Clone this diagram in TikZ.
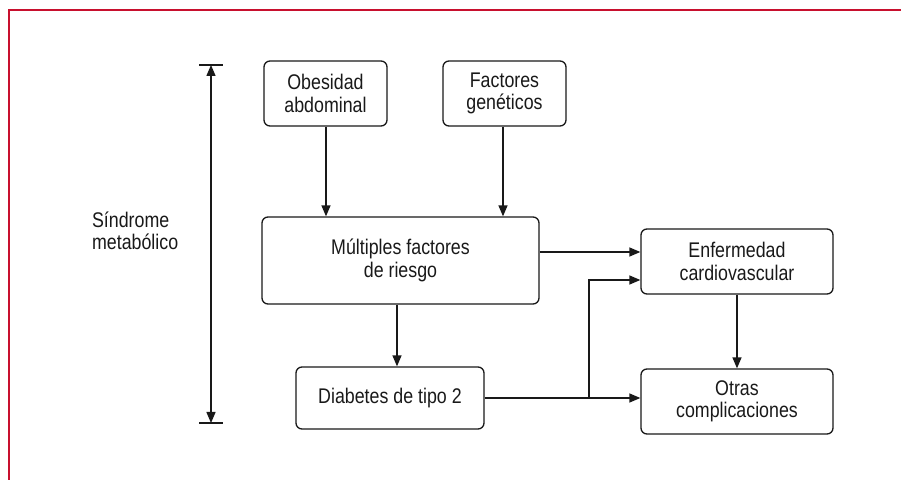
\documentclass[tikz,border=0pt]{standalone}
\usepackage{fontspec}
\setmainfont{Liberation Sans}[FakeStretch=0.84]
\usetikzlibrary{arrows.meta}
\definecolor{frame}{RGB}{200,16,46}
\begin{document}
\begin{tikzpicture}[x=0.5pt,y=-0.5pt,
    every node/.style={font=\fontsize{10.6}{11.2}\selectfont,align=center,color=black!90},
    box/.style={draw=black!90,line width=0.65pt,rounded corners=3pt,inner sep=0pt},
    arr/.style={draw=black!90,line width=0.7pt,-{Triangle[length=5.5pt,width=4.5pt]}}]
     \useasboundingbox (0,0) rectangle (901,480);
     % frame
     \draw [frame,line width=1pt] (9,480) -- (9,10) -- (901,10);
     % boxes
     \node [box,minimum width=61.5pt,minimum height=32.5pt] (obes) at (325.5,93.5) {Obesidad\\abdominal};
     \node [box,minimum width=61.5pt,minimum height=32.5pt] (fact) at (504.5,93.5) {Factores\\gen\'eticos};
     \node [box,minimum width=138.5pt,minimum height=43.5pt] (mult) at (400.5,260.5) {M\'ultiples factores\\de riesgo};
     \node [box,minimum width=94pt,minimum height=31pt] (diab) at (390,398) {Diabetes de tipo 2};
     \node [box,minimum width=96pt,minimum height=32.5pt] (enf) at (737,261.5) {Enfermedad\\cardiovascular};
     \node [box,minimum width=96pt,minimum height=32.5pt] (otras) at (737,401.5) {Otras\\complicaciones};
     \node [align=left,anchor=west] (sind) at (85,231) {S\'indrome\\metab\'olico};
     % span of the syndrome
     \coordinate (top) at (211,65);
     \coordinate (bot) at (211,423);
     \draw [black!90,line width=0.7pt] ([xshift=-6pt]top) -- ([xshift=6pt]top);
     \draw [black!90,line width=0.7pt] ([xshift=-6pt]bot) -- ([xshift=6pt]bot);
     \draw [arr,{Triangle[length=5.5pt,width=4.5pt]}-{Triangle[length=5.5pt,width=4.5pt]}] (top) -- (bot);
     % arrows
     \coordinate (ob) at (326,0);
     \coordinate (fa) at (503,0);
     \coordinate (md) at (397,0);
     \coordinate (e1) at (0,252);
     \coordinate (br) at (589,280);
     \draw [arr] (obes.south -| ob) -- (mult.north -| ob);
     \draw [arr] (fact.south -| fa) -- (mult.north -| fa);
     \draw [arr] (mult.south -| md) -- (diab.north -| md);
     \draw [arr] (mult.east |- e1) -- (enf.west |- e1);
     \draw [arr] (enf) -- (otras);
     \draw [arr] (diab.east) -- (otras.west |- diab.east);
     \draw [arr] (br |- diab.east) -- (br) -- (enf.west |- br);
\end{tikzpicture}
\end{document}
